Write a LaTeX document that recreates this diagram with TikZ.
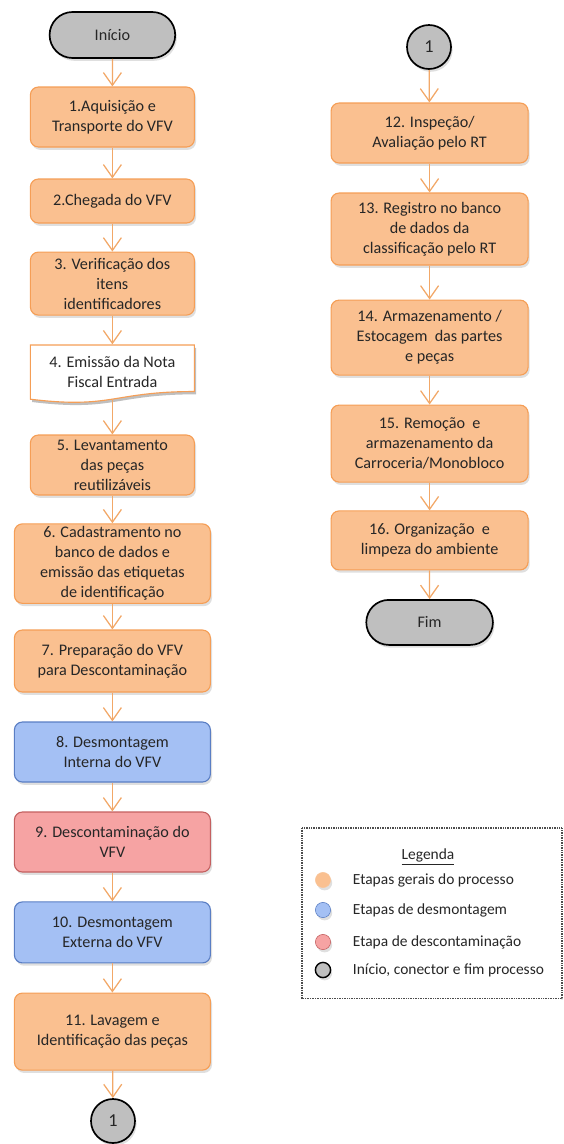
\documentclass[tikz,border=0pt]{standalone}
\usepackage{fontspec}
\setmainfont{Carlito}
\usetikzlibrary{shapes.misc,shadows,arrows.meta}

\definecolor{laranja}{HTML}{FAC090}
\definecolor{laranjaB}{HTML}{F59E56}
\definecolor{azul}{HTML}{A4C0F4}
\definecolor{azulB}{HTML}{5A7EC4}
\definecolor{vermelho}{HTML}{F6A3A3}
\definecolor{vermelhoB}{HTML}{C46060}
\definecolor{cinza}{HTML}{BFBFBF}
\definecolor{setacor}{HTML}{F2A868}

\tikzset{
	sombra/.style={drop shadow={opacity=0.25,shadow xshift=0.04cm,shadow yshift=-0.07cm}},
	caixa/.style={rectangle,rounded corners=0.2cm,line width=0.8pt,align=center,text=black!85,
		font=\fontsize{11.5}{14.2}\selectfont,inner sep=2pt},
	geral/.style={caixa,draw=laranjaB,fill=laranja,sombra},
	desmont/.style={caixa,draw=azulB,fill=azul,sombra},
	descont/.style={caixa,draw=vermelhoB,fill=vermelho,sombra},
	term/.style={rounded rectangle,draw=black,fill=cinza,line width=1.2pt,text=black!85,
		font=\fontsize{11.5}{14.2}\selectfont,minimum width=3.375cm,sombra},
	conector/.style={circle,draw=black,fill=cinza,line width=1.2pt,minimum size=1.1cm,inner sep=0pt,
		text=black!85,font=\fontsize{13}{15}\selectfont,sombra},
	seta/.style={draw=setacor,line width=0.9pt,-{Straight Barb[length=0.32cm,width=0.45cm]}},
	legtxt/.style={anchor=west,text=black!85,font=\fontsize{11}{13}\selectfont}
}

\begin{document}
\begin{tikzpicture}
	\useasboundingbox (0,0) rectangle (14.075,-28.6);
	% coluna esquerda
	\node[term,minimum height=1.15cm] (ini) at (2.81,-0.875) {Início};
	\node[geral,minimum width=4.1cm,minimum height=1.5cm] (b1) at (2.81,-2.925) {1.Aquisição e\\Transporte do VFV};
	\node[geral,minimum width=4.1cm,minimum height=1.1cm] (b2) at (2.81,-5.025) {2.Chegada do VFV};
	\node[geral,minimum width=4.1cm,minimum height=1.575cm] (b3) at (2.81,-7.09) {3. Verificação dos\\itens\\identificadores};
	\fill[black,opacity=0.25] (0.8,-8.695) -- (4.9,-8.695) -- (4.9,-9.858)
		.. controls (2.85,-9.858) and (2.85,-10.3) .. (0.8,-10.05) -- cycle;
	\draw[laranjaB,fill=white,line width=0.8pt] (0.76,-8.625) -- (4.86,-8.625) -- (4.86,-9.788)
		.. controls (2.81,-9.788) and (2.81,-10.23) .. (0.76,-9.98) -- cycle;
	\node[caixa,minimum width=4.1cm,minimum height=1.355cm] (b4) at (2.81,-9.30) {4. Emissão da Nota\\Fiscal Entrada};
	\node[geral,minimum width=4.1cm,minimum height=1.5cm] (b5) at (2.81,-11.625) {5. Levantamento\\das peças\\reutilizáveis};
	\node[geral,minimum width=4.9cm,minimum height=1.925cm] (b6) at (2.81,-14.09) {6. Cadastramento no\\banco de dados e\\emissão das etiquetas\\de identificação};
	\node[geral,minimum width=4.9cm,minimum height=1.55cm] (b7) at (2.81,-16.525) {7. Preparação do VFV\\para Descontaminação};
	\node[desmont,minimum width=4.9cm,minimum height=1.5cm] (b8) at (2.81,-18.8) {8. Desmontagem\\Interna do VFV};
	\node[descont,minimum width=4.9cm,minimum height=1.5cm] (b9) at (2.81,-21.05) {9. Descontaminação do\\VFV};
	\node[desmont,minimum width=4.9cm,minimum height=1.525cm] (b10) at (2.81,-23.31) {10. Desmontagem\\Externa do VFV};
	\node[geral,minimum width=4.9cm,minimum height=1.925cm] (b11) at (2.81,-25.79) {11. Lavagem e\\Identificação das peças};
	\node[conector] (c1) at (2.825,-28.025) {1};
	% coluna direita
	\node[conector] (c2) at (10.725,-1.175) {1};
	\node[geral,minimum width=4.925cm,minimum height=1.5cm] (b12) at (10.74,-3.325) {12. Inspeção/\\Avaliação pelo RT};
	\node[geral,minimum width=4.925cm,minimum height=1.8cm] (b13) at (10.74,-5.725) {13. Registro no banco\\de dados da\\classificação pelo RT};
	\node[geral,minimum width=4.925cm,minimum height=1.875cm] (b14) at (10.74,-8.44) {14. Armazenamento /\\Estocagem \ das partes\\e peças};
	\node[geral,minimum width=4.925cm,minimum height=1.925cm] (b15) at (10.74,-11.09) {15. Remoção \ e\\armazenamento da\\Carroceria/Monobloco};
	\node[geral,minimum width=4.925cm,minimum height=1.475cm] (b16) at (10.74,-13.51) {16. Organização \ e\\limpeza do ambiente};
	\node[term,minimum height=1.125cm,minimum width=3.4cm] (fim) at (10.74,-15.56) {Fim};
	% setas
	\draw[seta] (ini) -- (b1);
	\draw[seta] (b1) -- (b2);
	\draw[seta] (b2) -- (b3);
	\draw[seta] (b3) -- (b4);
	\draw[seta] (b4) -- (b5);
	\draw[seta] (b5) -- (b6);
	\draw[seta] (b6) -- (b7);
	\draw[seta] (b7) -- (b8);
	\draw[seta] (b8) -- (b9);
	\draw[seta] (b9) -- (b10);
	\draw[seta] (b10) -- (b11);
	\draw[seta] (b11) -- (c1);
	\draw[seta] (c2) -- (b12);
	\draw[seta] (b12) -- (b13);
	\draw[seta] (b13) -- (b14);
	\draw[seta] (b14) -- (b15);
	\draw[seta] (b15) -- (b16);
	\draw[seta] (b16) -- (fim);
	% legenda
	\draw[black!70,line width=0.8pt,dash pattern=on 0.6pt off 0.6pt] (7.55,-20.7) rectangle (14.05,-24.97);
	\node[text=black!85,font=\fontsize{11}{13}\selectfont] (leg) at (10.7,-21.425) {\underline{Legenda}};
	\node[circle,draw=laranjaB!60,fill=laranja,minimum size=0.38cm,inner sep=0pt,sombra] (l1) at (8.075,-22.0) {};
	\node[circle,draw=azulB,fill=azul,minimum size=0.38cm,inner sep=0pt,sombra] (l2) at (8.075,-22.75) {};
	\node[circle,draw=vermelhoB,fill=vermelho,minimum size=0.38cm,inner sep=0pt,sombra] (l3) at (8.075,-23.55) {};
	\node[circle,draw=black,fill=cinza,line width=1pt,minimum size=0.38cm,inner sep=0pt,sombra] (l4) at (8.075,-24.25) {};
	\node[legtxt] (t1) at (8.7,-22.0) {Etapas gerais do processo};
	\node[legtxt] (t2) at (8.7,-22.75) {Etapas de desmontagem};
	\node[legtxt] (t3) at (8.7,-23.55) {Etapa de descontaminação};
	\node[legtxt] (t4) at (8.7,-24.25) {Início, conector e fim processo};
\end{tikzpicture}
\end{document}
